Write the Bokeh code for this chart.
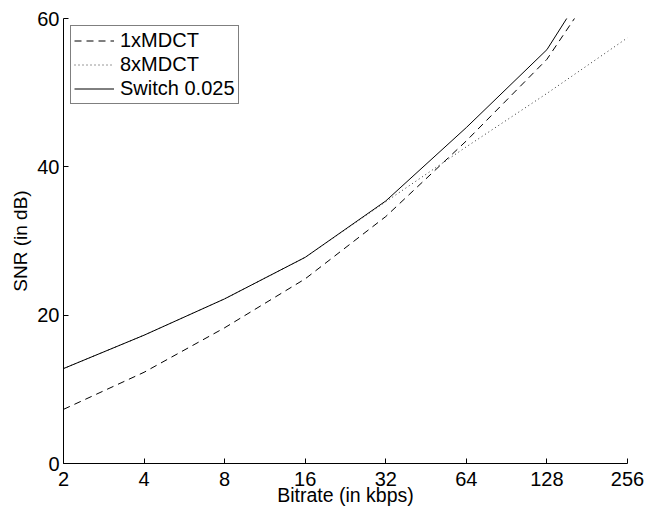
from bokeh.plotting import figure
from bokeh.models import Range1d, FixedTicker
from bokeh.embed import file_html
from bokeh.resources import INLINE

bitrates = [2, 4, 8, 16, 32, 64, 128, 256]
mdct1 = [7.3, 12.3, 18.3, 24.9, 33.3, 43.5, 54.5, 70.6]
mdct8 = [12.8, 17.3, 22.2, 27.8, 35.3, 42.7, 49.9, 57.4]
switch = [12.8, 17.3, 22.2, 27.8, 35.4, 45.3, 55.8, 72.9]

x_ticks = [2, 4, 8, 16, 32, 64, 128, 256]
x_tick_labels = ["2", "4", "8", "16", "32", "64", "128", "256"]
y_ticks = [0, 20, 40, 60]

FONT = "Liberation Sans"

p = figure(width=645, height=508, x_axis_type="log",
           x_range=Range1d(2, 256), y_range=Range1d(0, 60),
           output_backend="svg", toolbar_location=None, title=None,
           min_border_left=63, min_border_right=18, min_border_top=18,
           min_border_bottom=45)

p.outline_line_color = None
p.grid.visible = False
p.background_fill_color = "white"
p.border_fill_color = "white"

p.line(bitrates, mdct1, line_color="black", line_width=1, line_dash="7 5",
       legend_label="1xMDCT")
p.line(bitrates, mdct8, line_color="#333333", line_width=1, line_dash="1 3",
       legend_label="8xMDCT")
p.line(bitrates, switch, line_color="black", line_width=1,
       legend_label="Switch 0.025")

for ax in (p.xaxis[0], p.yaxis[0]):
    ax.major_tick_in = 5
    ax.major_tick_out = 0
    ax.minor_tick_in = 0
    ax.minor_tick_out = 0
    ax.axis_line_color = "black"
    ax.major_tick_line_color = "black"
    ax.major_label_text_font = FONT
    ax.major_label_text_font_size = "20px"
    ax.major_label_text_color = "black"
    ax.axis_label_text_font = FONT
    ax.axis_label_text_font_style = "normal"
    ax.axis_label_text_color = "black"

p.xaxis.ticker = FixedTicker(ticks=x_ticks)
p.xaxis.major_label_overrides = {t: l for t, l in zip(x_ticks, x_tick_labels)}
p.xaxis.major_label_standoff = 8
p.xaxis.axis_label = "Bitrate (in kbps)"
p.xaxis.axis_label_text_font_size = "19.5px"
p.xaxis.axis_label_text_line_height = 0.8
p.xaxis.axis_label_standoff = -5

p.yaxis.ticker = FixedTicker(ticks=y_ticks)
p.yaxis.axis_label = "SNR (in dB)"
p.yaxis.axis_label_text_font_size = "19px"
p.yaxis.major_label_standoff = 4
p.yaxis.axis_label_standoff = 3

lg = p.legend[0]
lg.location = "top_left"
lg.margin = 7
lg.padding = 3
lg.spacing = 1
lg.glyph_width = 40
lg.glyph_height = 23
lg.label_height = 23
lg.label_standoff = 6
lg.label_text_font = FONT
lg.label_text_font_size = "20px"
lg.label_text_color = "black"
lg.border_line_color = "black"
lg.border_line_width = 1
lg.background_fill_color = "white"
lg.background_fill_alpha = 1.0

open("out.html", "w").write(file_html(p, INLINE))
